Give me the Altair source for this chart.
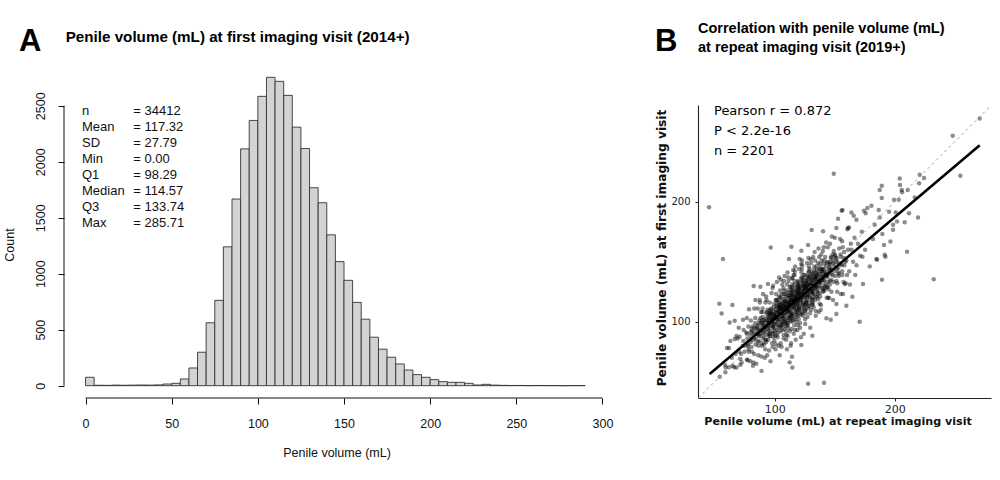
import altair as alt
import pandas as pd

# ---------------- Panel A: histogram of penile volume, 5 mL bins ----------------
bin_lo = list(range(0, 290, 5))
bin_counts = [
    75, 4, 3, 5, 4, 5, 6, 5, 7, 15,                               # 0-50
    21, 60, 158, 299, 562, 762, 1240, 1667, 2115, 2369,           # 50-100
    2584, 2754, 2718, 2593, 2309, 2118, 1768, 1634, 1347, 1108,   # 100-150
    941, 744, 594, 433, 326, 254, 194, 140, 99, 75,               # 150-200
    54, 36, 30, 30, 21, 6, 12, 5, 3, 2,                           # 200-250
    2, 1, 2, 1, 1, 0, 1, 1,                                       # 250-290
]
bin_width = 5
x_ticks_a = [0, 50, 100, 150, 200, 250, 300]
y_ticks_a = [0, 500, 1000, 1500, 2000, 2500]

stat_names = ["n", "Mean", "SD", "Min", "Q1", "Median", "Q3", "Max"]
stat_values = ["= 34412", "= 117.32", "= 27.79", "= 0.00", "= 98.29",
               "= 114.57", "= 133.74", "= 285.71"]

# ---------------- Panel B: first vs repeat imaging visit ----------------
# main cloud (repeat visit, first visit)
core_pts = [
    (58.7, 64), (60.2, 78), (61.9, 62), (64.3, 70), (63.1, 84),
    (67.4, 73), (66.2, 62), (68.1, 88),
    (70.5, 75), (69.1, 86), (71.3, 64), (70.0, 95),
    (73.9, 84), (72.0, 73), (74.1, 93), (72.5, 66), (73.4, 80),
    (76.3, 91), (75.2, 80), (77.4, 68), (76.8, 103), (74.8, 75), (77.2, 86),
    (78.4, 75), (79.9, 91), (80.1, 101), (77.8, 81), (79.6, 67), (80.4, 85), (78.1, 96),
    (82.6, 89), (81.1, 75), (83.0, 111), (82.3, 66), (80.7, 94), (83.4, 85), (81.6, 96), (82.9, 73),
    (84.3, 94), (85.9, 111), (86.1, 83), (84.7, 65), (83.8, 103), (85.4, 90), (86.4, 80),
    (84.0, 118), (85.2, 96), (86.3, 72),
    (88.6, 108), (87.2, 88), (89.0, 59), (88.1, 103), (86.7, 94), (89.3, 80), (87.6, 116),
    (88.9, 71), (87.0, 99), (88.4, 90), (89.4, 101),
    (91.2, 81), (90.0, 99), (92.3, 116), (90.6, 88), (91.8, 70), (89.7, 108), (91.5, 95),
    (92.4, 85), (90.3, 123), (91.0, 101), (92.1, 77), (89.9, 111), (90.8, 91),
    (93.4, 108), (95.1, 99), (94.6, 85), (92.8, 121), (95.3, 76), (93.9, 104), (94.3, 95),
    (95.4, 106), (92.9, 83), (94.8, 101), (93.2, 118), (95.0, 90), (93.7, 72), (94.1, 110),
    (97.6, 100), (96.1, 90), (98.2, 128), (96.7, 106), (97.9, 82), (95.8, 116), (98.4, 96),
    (96.5, 67), (97.2, 111), (98.0, 102), (96.2, 88), (97.4, 124), (98.3, 79), (95.9, 107),
    (97.0, 98), (96.8, 109),
    (100.3, 88), (99.1, 106), (101.2, 123), (98.8, 95), (100.7, 77), (99.5, 115), (101.4, 102),
    (100.0, 92), (98.7, 130), (101.0, 108), (99.8, 84), (100.9, 118), (99.2, 98), (101.3, 113),
    (100.5, 104), (98.9, 90), (101.1, 81),
    (103.8, 112), (102.0, 103), (104.3, 114), (102.6, 91), (103.1, 109), (104.4, 126),
    (101.9, 98), (103.5, 80), (102.2, 118), (104.1, 105), (103.0, 95), (101.8, 133),
    (104.0, 111), (102.4, 87), (103.6, 121), (102.8, 101), (104.2, 72), (103.3, 116),
    (106.9, 110), (105.2, 96), (106.3, 131), (107.4, 86), (104.8, 114), (105.9, 105),
    (107.1, 116), (106.0, 93), (105.4, 111), (107.3, 128), (106.6, 100), (104.9, 82),
    (105.7, 120), (107.0, 107), (106.2, 97), (105.1, 135), (106.8, 113), (107.5, 89),
    (105.5, 123), (106.4, 103),
    (109.2, 96), (108.0, 114), (110.3, 131), (107.9, 103), (109.6, 85), (108.4, 123),
    (110.1, 110), (109.0, 100), (108.2, 138), (110.4, 116), (109.5, 92), (107.8, 126),
    (108.7, 106), (110.2, 77), (109.3, 121), (108.5, 112), (110.0, 98), (107.7, 134),
    (109.8, 89), (108.9, 117), (110.5, 108),
    (112.4, 122), (111.0, 99), (113.2, 117), (111.6, 134), (112.9, 106), (110.8, 88),
    (113.4, 126), (111.9, 113), (112.2, 103), (110.7, 141), (113.1, 119), (111.3, 95),
    (112.7, 129), (111.5, 109), (113.3, 80), (110.9, 124), (112.0, 115), (113.0, 101),
    (111.2, 137), (112.6, 92), (111.8, 111),
    (115.7, 113), (113.8, 124), (115.3, 101), (116.4, 119), (114.5, 136), (113.6, 108),
    (115.9, 90), (114.9, 128), (116.1, 115), (114.2, 105), (115.4, 143), (114.0, 121),
    (116.3, 97), (114.7, 131), (115.6, 111), (113.7, 82), (115.0, 126), (116.2, 117),
    (114.4, 103), (115.8, 139), (114.1, 94), (115.2, 122),
    (118.4, 111), (116.9, 93), (119.2, 131), (117.3, 118), (118.8, 108), (117.0, 146),
    (119.4, 124), (118.1, 100), (116.7, 134), (118.6, 114), (117.5, 85), (119.0, 129),
    (117.8, 120), (118.9, 106), (116.8, 142), (119.3, 97), (117.2, 125), (118.3, 116),
    (119.1, 127), (117.6, 104), (118.0, 122), (116.6, 139),
    (121.3, 126), (120.0, 102), (122.2, 136), (120.6, 116), (121.9, 87), (119.7, 131),
    (121.4, 122), (122.4, 108), (120.3, 144), (121.1, 99), (119.9, 127), (122.0, 118),
    (120.8, 129), (121.7, 106), (119.8, 124), (122.3, 141), (120.5, 113), (121.2, 95),
    (119.6, 133), (121.8, 120), (120.2, 110), (122.1, 148),
    (124.2, 90), (123.0, 134), (125.1, 125), (124.6, 111), (122.9, 147), (125.3, 102),
    (123.7, 130), (124.8, 121), (123.2, 132), (125.0, 109), (124.4, 127), (122.7, 144),
    (123.9, 116), (125.4, 98), (124.0, 136), (123.4, 123), (124.9, 113), (122.8, 151),
    (125.2, 129), (123.6, 105), (124.1, 139),
    (127.5, 125), (126.3, 115), (128.1, 153), (127.0, 131), (125.8, 107), (128.4, 141),
    (126.6, 121), (127.8, 136), (126.1, 127), (128.2, 113), (126.9, 149), (127.3, 104),
    (125.9, 132), (128.0, 123), (126.4, 134), (127.6, 111), (125.7, 129), (128.3, 146),
    (126.8, 118), (127.2, 138),
    (130.4, 110), (129.1, 144), (131.2, 124), (129.6, 95), (130.9, 139), (128.8, 130),
    (131.3, 116), (130.0, 152), (129.4, 107), (131.0, 135), (130.6, 126), (128.9, 137),
    (131.4, 114), (129.8, 132), (130.2, 149), (128.7, 121), (131.1, 141), (129.3, 128),
    (130.7, 118),
    (133.6, 151), (132.1, 123), (134.2, 105), (132.7, 143), (133.9, 130), (131.8, 120),
    (133.3, 158), (134.4, 136), (132.4, 112), (133.0, 146), (131.9, 126), (134.1, 141),
    (132.6, 132), (133.7, 118), (132.0, 154), (134.3, 109), (132.9, 137), (133.4, 128),
    (136.3, 119), (135.2, 137), (137.1, 154), (135.6, 126), (136.8, 108), (134.9, 146),
    (137.3, 133), (135.9, 123), (136.5, 161), (135.0, 139), (137.4, 115), (136.1, 149),
    (135.4, 129), (137.0, 144), (136.6, 135), (135.1, 121),
    (139.7, 144), (138.2, 133), (140.1, 159), (138.6, 114), (139.3, 142), (137.9, 121),
    (140.4, 139), (138.8, 156), (139.9, 128), (138.0, 148), (139.5, 135), (140.2, 125),
    (138.4, 110), (139.1, 151),
    (142.4, 131), (141.2, 151), (143.0, 138), (141.7, 128), (142.9, 166), (140.8, 144),
    (143.3, 120), (142.1, 154), (141.0, 134), (143.4, 149), (142.6, 140), (141.4, 126),
    (140.9, 162),
    (145.5, 143), (144.0, 129), (146.1, 165), (144.6, 120), (145.9, 148), (143.9, 139),
    (146.3, 150), (144.8, 127), (145.2, 145), (144.3, 162), (146.0, 134),
    (148.3, 156), (147.1, 143), (149.0, 133), (147.6, 171), (148.8, 149), (147.3, 125),
    (149.2, 159), (148.0, 139), (146.9, 154), (148.6, 118),
    (151.4, 134), (150.1, 170), (152.0, 125), (150.6, 153), (151.8, 144), (150.3, 155),
    (152.2, 132), (151.1, 150),
    (154.5, 169), (153.2, 141), (155.0, 123), (153.7, 161), (154.8, 148), (153.4, 138),
    (155.2, 154),
    (157.3, 133), (156.2, 167), (158.1, 147), (156.7, 162), (157.9, 153), (156.4, 139),
    (160.6, 177), (159.2, 132), (161.0, 160), (159.7, 151), (160.3, 139),
    (163.4, 165), (162.1, 142), (164.0, 160), (162.7, 131),
    (166.5, 170), (165.3, 150), (167.1, 139),
    (169.4, 165), (168.2, 147), (172.6, 175), (171.1, 155), (175.3, 160),
]

# densest part of the cloud, close to the fitted line
dense_pts = [
    (77.9, 80), (77.0, 90), (78.2, 77),
    (80.1, 83), (81.0, 92), (80.7, 79), (79.9, 88),
    (83.9, 86), (83.0, 95), (84.1, 81), (82.8, 91), (83.6, 99),
    (86.9, 88), (85.9, 97), (87.0, 84), (86.2, 93), (87.3, 101), (85.8, 90),
    (89.8, 91), (88.9, 99), (90.2, 86), (89.3, 96), (90.0, 104), (88.8, 93), (89.6, 82), (90.4, 97),
    (92.9, 94), (91.8, 102), (93.2, 89), (92.3, 99), (93.0, 107), (91.9, 96), (92.6, 85),
    (93.4, 101), (92.1, 92),
    (95.8, 97), (94.9, 104), (96.2, 92), (95.3, 101), (96.0, 110), (94.8, 99), (95.6, 88),
    (96.4, 103), (95.1, 95), (96.1, 107), (94.7, 93),
    (98.9, 99), (97.8, 107), (99.2, 95), (98.3, 104), (99.0, 112), (97.9, 101), (98.6, 91),
    (99.4, 106), (98.1, 97), (99.1, 109), (97.7, 103), (98.8, 87),
    (101.8, 102), (100.9, 110), (102.2, 97), (101.3, 106), (102.0, 115), (100.8, 104),
    (101.6, 93), (102.4, 108), (101.1, 100), (102.1, 112), (100.7, 105), (101.9, 89), (101.4, 118),
    (104.9, 104), (103.8, 112), (105.2, 100), (104.3, 109), (105.0, 117), (103.9, 106),
    (104.6, 96), (105.4, 111), (104.1, 102), (105.1, 114), (103.7, 108), (104.8, 92),
    (104.4, 120), (105.3, 98),
    (107.8, 107), (106.9, 115), (108.2, 102), (107.3, 111), (108.0, 119), (106.8, 109),
    (107.6, 98), (108.4, 113), (107.1, 105), (108.1, 117), (106.7, 110), (107.9, 94),
    (107.4, 123), (108.3, 100),
    (110.9, 109), (109.8, 117), (111.2, 105), (110.3, 114), (111.0, 122), (109.9, 112),
    (110.6, 101), (111.4, 116), (110.1, 108), (111.1, 120), (109.7, 113), (110.8, 97),
    (110.4, 126), (111.3, 103), (110.0, 111),
    (113.9, 112), (112.8, 120), (114.2, 107), (113.3, 117), (114.0, 125), (112.9, 114),
    (113.6, 104), (114.4, 118), (113.1, 110), (114.1, 122), (112.7, 116), (113.8, 100),
    (113.4, 129), (114.3, 106), (113.0, 114),
    (116.9, 114), (115.8, 122), (117.2, 110), (116.3, 119), (117.0, 128), (115.9, 117),
    (116.6, 106), (117.4, 121), (116.1, 112), (117.1, 125), (115.7, 118), (116.8, 102),
    (116.4, 131), (117.3, 108), (116.0, 116),
    (119.9, 117), (118.8, 125), (120.2, 112), (119.3, 122), (120.0, 130), (118.9, 119),
    (119.6, 109), (120.4, 123), (119.1, 115), (120.1, 127), (118.7, 121), (119.8, 105),
    (119.4, 134), (120.3, 111), (119.0, 118),
    (122.9, 120), (121.8, 128), (123.2, 115), (122.3, 124), (123.0, 133), (121.9, 122),
    (122.6, 111), (123.4, 126), (122.1, 118), (123.1, 130), (121.7, 124), (122.8, 107),
    (122.4, 137), (123.3, 114),
    (125.9, 122), (124.8, 130), (126.2, 117), (125.3, 127), (126.0, 135), (124.9, 125),
    (125.6, 114), (126.4, 129), (125.1, 120), (126.1, 132), (124.7, 126), (125.8, 110),
    (125.4, 139), (126.3, 116),
    (128.9, 125), (127.8, 133), (129.2, 120), (128.3, 130), (129.0, 138), (127.9, 127),
    (128.6, 116), (129.4, 131), (128.1, 122), (129.1, 135), (127.7, 129), (128.8, 113), (128.4, 142),
    (131.9, 127), (130.8, 135), (132.2, 123), (131.3, 132), (132.0, 140), (130.9, 130),
    (131.6, 119), (132.4, 134), (131.1, 125), (132.1, 137), (130.7, 131), (131.8, 115),
    (134.9, 130), (133.8, 138), (135.2, 125), (134.3, 135), (135.0, 143), (133.9, 132),
    (134.6, 121), (135.4, 136), (134.1, 128), (135.1, 140), (133.7, 133),
    (137.9, 132), (136.8, 140), (138.2, 128), (137.3, 137), (138.0, 145), (136.9, 135),
    (137.6, 124), (138.4, 139), (137.1, 130), (138.1, 142),
    (140.9, 135), (139.8, 143), (141.2, 130), (140.3, 140), (141.0, 148), (139.9, 137),
    (140.6, 126), (141.4, 141),
    (143.9, 137), (142.8, 146), (144.2, 133), (143.3, 142), (144.0, 150), (142.9, 139), (143.6, 129),
    (146.9, 140), (145.8, 148), (147.2, 135), (146.3, 145), (147.0, 153), (145.9, 131),
    (149.9, 142), (148.8, 151), (150.2, 138), (149.3, 147), (150.0, 156),
    (152.9, 145), (151.8, 153), (153.2, 140), (152.3, 150),
    (155.9, 147), (154.8, 156), (156.2, 142), (158.9, 150), (157.8, 158),
]

# sparser points around the cloud
outer_pts = [
    (149.2, 223.3), (45.3, 195.3), (56.9, 152.3), (96.7, 161.8), (113.9, 162.5),
    (130.8, 176.4), (140.3, 175.3), (155.8, 192.5), (152.8, 185.8), (151.4, 178),
    (161.0, 178), (127.8, 164), (122.2, 159.2), (111.9, 152.2), (120.8, 152.2),
    (270.8, 269.4), (248.3, 255), (254.7, 221.7), (220.8, 222.5), (224.4, 219.7),
    (220.3, 215.3), (204.2, 219.4), (189.2, 213.3), (204.4, 213.9), (187.5, 209.7),
    (205.8, 209.7), (210.8, 209.7), (206.1, 207.8), (189.2, 203.1), (199.4, 201.7),
    (203.3, 201.7), (216.7, 203.6), (180.6, 196.7), (177.2, 194.7), (174.4, 192.5),
    (175.8, 190.3), (163.9, 191.1), (156.4, 193.1), (186.7, 193.1), (195.3, 191.7),
    (200.8, 191.1), (211.9, 190.3), (187.5, 186.9), (219.4, 186.9), (208.3, 182.8),
    (201.9, 183.6), (198.6, 180.8), (198.6, 176.7), (165.8, 188.3), (168.1, 185),
    (161.9, 178.6), (183.3, 180.8), (189.7, 173.1), (196.4, 166.9), (191.1, 163.9),
    (181.9, 168.9), (210.3, 158.3), (191.7, 155.8), (184.7, 152.2), (192.2, 154.2),
    (173.1, 154.2), (179.2, 146.1),
    (127.8, 48.3), (141.1, 49.2), (114.4, 70.8), (112.5, 66.1), (114.7, 61.9),
    (53.9, 115), (55.8, 106.9), (64.8, 113.9), (78.6, 110.3), (82.5, 129.8),
    (88.1, 129.2), (94.4, 131.4), (87.5, 118.1), (62.5, 99.4), (66.7, 100.8),
    (73.6, 101.7), (61.9, 78.1), (66.7, 85.6), (70.8, 87.5), (54.2, 54.2),
    (58.9, 57.8), (59.2, 61.9), (64.8, 63.3), (68.1, 61.9), (81.9, 63.3),
    (71.4, 68.9), (76.9, 68.3), (122.2, 80.6), (131.4, 88.3), (105.8, 79.2),
    (118.9, 93.1), (151.4, 106.4), (159.7, 113.3), (151.4, 114.7), (145.3, 119.7),
    (156.9, 123.1), (158.3, 131.4), (103.6, 136.9), (114.7, 136.4),
    (232.5, 135.3), (189.4, 135), (170.8, 100), (173.6, 131.4), (185.3, 151.7),
    (164.7, 120.8), (146.7, 101.7), (143.1, 102.8),
]

fit_x = [45.8, 270.8]          # least-squares fit, drawn over the observed x range
fit_y = [56.5, 247.0]
identity_xy = [36.4, 280.0]    # y = x reference line
x_ticks_b = [100, 200]
y_ticks_b = [100, 200]
corr_lines = ["Pearson r = 0.872", "P < 2.2e-16", "n = 2201"]

R_FONT = "Liberation Sans"
GG_FONT = "DejaVu Sans"
INK = "#111111"
NO_FRAME = alt.ViewBackground(stroke=None, strokeWidth=0)

# ======================= Panel A =======================
WA, HA = 560, 333
hist_df = pd.DataFrame({
    "lo": bin_lo,
    "hi": [b + bin_width for b in bin_lo],
    "count": bin_counts,
})
one = pd.DataFrame({"k": [0]})

xA = alt.X("lo:Q", scale=alt.Scale(domain=[-12.5, 312.5], nice=False, zero=False),
           axis=alt.Axis(values=x_ticks_a, title=None, grid=False, domain=False,
                         tickSize=6, tickColor=INK, tickWidth=1, format="d",
                         labelFont=R_FONT, labelFontSize=12.5, labelColor=INK,
                         labelPadding=13, labelFlush=False))
yA = alt.Y("count:Q", scale=alt.Scale(domain=[-110, 2864], nice=False, zero=False),
           axis=alt.Axis(values=y_ticks_a, title=None, grid=False, domain=False,
                         tickSize=6, tickColor=INK, tickWidth=1, format="d",
                         labelFont=R_FONT, labelFontSize=12.5, labelColor=INK,
                         labelAngle=-90, labelAlign="center", labelBaseline="bottom",
                         labelPadding=11, labelFlush=False))

bars = alt.Chart(hist_df).mark_rect(fill="#d3d3d3", stroke="#333333", strokeWidth=0.9).encode(
    x=xA, x2="hi:Q", y=yA, y2=alt.datum(0)
)

# R-style axis lines spanning only the tick range
y_line = alt.Chart(one).mark_rule(color=INK, strokeWidth=1).encode(
    x=alt.value(0), y=alt.datum(0), y2=alt.datum(2500))
x_line = alt.Chart(one).mark_rule(color=INK, strokeWidth=1).encode(
    x=alt.datum(0), x2=alt.datum(300), y=alt.value(HA))

# fixes the page origin at the top-left corner
anchor = alt.Chart(one).mark_rule(strokeOpacity=0, opacity=0).encode(
    x=alt.value(-64), x2=alt.value(-63), y=alt.value(-65), y2=alt.value(-64))

stat_lbl = alt.Chart(one).mark_text(
    text=stat_names, align="left", baseline="alphabetic", lineHeight=16,
    font=R_FONT, fontSize=13, color=INK).encode(x=alt.value(18), y=alt.value(50.3))
stat_val = alt.Chart(one).mark_text(
    text=stat_values, align="left", baseline="alphabetic", lineHeight=16,
    font=R_FONT, fontSize=13, color=INK).encode(x=alt.value(69.3), y=alt.value(50.3))

letter_a = alt.Chart(one).mark_text(
    text="A", align="left", baseline="alphabetic", font=R_FONT, fontSize=31,
    fontWeight="bold", color="#000").encode(x=alt.value(-45), y=alt.value(-14.3))
title_a = alt.Chart(one).mark_text(
    text="Penile volume (mL) at first imaging visit (2014+)", align="left",
    baseline="alphabetic", font=R_FONT, fontSize=15.2, fontWeight="bold",
    color="#000").encode(x=alt.value(1.7), y=alt.value(-23))
count_title = alt.Chart(one).mark_text(
    text="Count", angle=270, align="center", baseline="middle", font=R_FONT,
    fontSize=12.5, color=INK).encode(x=alt.value(-54), y=alt.value(180))
xtitle_a = alt.Chart(one).mark_text(
    text="Penile volume (mL)", align="center", baseline="middle", font=R_FONT,
    fontSize=12.5, color=INK).encode(x=alt.value(273), y=alt.value(388))

panel_a = alt.layer(
    bars, y_line, x_line, stat_lbl, stat_val, letter_a, title_a,
    count_title, xtitle_a, anchor,
).properties(width=WA, height=HA, view=NO_FRAME)

# ======================= Panel B =======================
WB, HB = 293, 333
pts_df = pd.DataFrame(core_pts + dense_pts + outer_pts, columns=["repeat", "first"])

xB = alt.X("repeat:Q", scale=alt.Scale(domain=[36.1, 280.2], nice=False, zero=False),
           axis=alt.Axis(values=x_ticks_b, title=None, grid=False, domain=True,
                         domainColor="#222222", domainWidth=1.1,
                         tickSize=3, tickColor="#222222", tickWidth=1,
                         labelFont=GG_FONT, labelFontSize=11, labelColor="#222222",
                         labelPadding=2))
yB = alt.Y("first:Q", scale=alt.Scale(domain=[36.4, 280.6], range=[HB, 40], nice=False, zero=False),
           axis=alt.Axis(values=y_ticks_b, title=None, grid=False, domain=True,
                         domainColor="#222222", domainWidth=1.1,
                         tickSize=3, tickColor="#222222", tickWidth=1,
                         labelFont=GG_FONT, labelFontSize=10, labelColor="#222222",
                         labelPadding=5))

points = alt.Chart(pts_df).mark_circle(size=20, color="#000000", opacity=0.45).encode(x=xB, y=yB)

ident = alt.Chart(pd.DataFrame({"repeat": identity_xy, "first": identity_xy})).mark_line(
    color="#999999", strokeWidth=0.9, strokeDash=[3, 3]).encode(
    x="repeat:Q", y="first:Q")
fit = alt.Chart(pd.DataFrame({"repeat": fit_x, "first": fit_y})).mark_line(
    color="#000000", strokeWidth=2.6).encode(x="repeat:Q", y="first:Q")

corr_txt = alt.Chart(one).mark_text(
    text=corr_lines, align="left", baseline="alphabetic", lineHeight=19.7,
    font=GG_FONT, fontSize=13, color="#000").encode(x=alt.value(16), y=alt.value(50.4))

letter_b = alt.Chart(one).mark_text(
    text="B", align="left", baseline="alphabetic", font=R_FONT, fontSize=31,
    fontWeight="bold", color="#000").encode(x=alt.value(-43), y=alt.value(-14.3))
title_b = alt.Chart(one).mark_text(
    text=["Correlation with penile volume (mL)", "at repeat imaging visit (2019+)"],
    align="left", baseline="alphabetic", lineHeight=18.4, font=R_FONT, fontSize=14.5,
    fontWeight="bold", color="#000").encode(x=alt.value(0), y=alt.value(-31.7))
ytitle_b = alt.Chart(one).mark_text(
    text="Penile volume (mL) at first imaging visit", angle=270, align="center",
    baseline="middle", font=GG_FONT, fontSize=12.2, fontWeight="bold",
    color="#111").encode(x=alt.value(-36), y=alt.value(183))
xtitle_b = alt.Chart(one).mark_text(
    text="Penile volume (mL) at repeat imaging visit", align="center",
    baseline="middle", font=GG_FONT, fontSize=11.1, fontWeight="bold",
    color="#111").encode(x=alt.value(140), y=alt.value(357))

panel_b = alt.layer(
    points, ident, fit, corr_txt, letter_b, title_b, ytitle_b, xtitle_b,
).properties(width=WB, height=HB, view=NO_FRAME)

chart = alt.hconcat(panel_a, panel_b, spacing=74, bounds="flush").properties(
    padding=0
).configure_view(stroke=None, strokeWidth=0).configure(background="white")

chart.save("out.html", embed_options={"renderer": "svg", "actions": False})
